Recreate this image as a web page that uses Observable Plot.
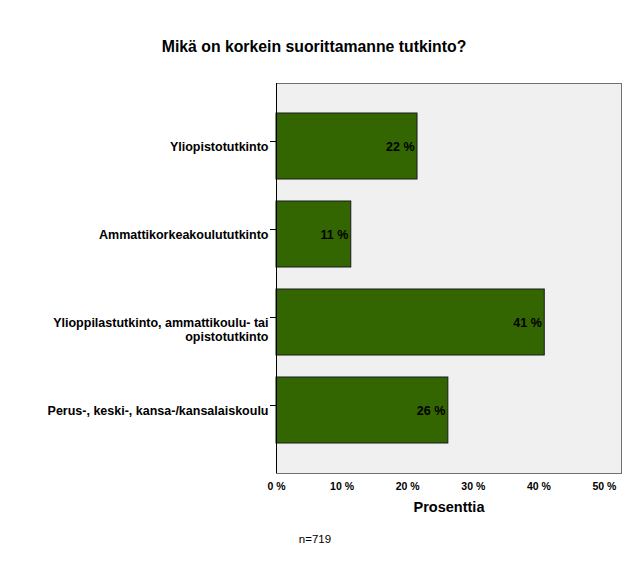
<!DOCTYPE html>
<html><head><meta charset="utf-8">
<script src="https://cdn.jsdelivr.net/npm/d3@7"></script>
<script src="https://cdn.jsdelivr.net/npm/@observablehq/plot@0.6"></script>
<style>
body{margin:0;background:#fff}
svg{font-family:"Liberation Sans",Arial,sans-serif;display:block}
</style>
</head><body><div id="chart"></div>
<script>
const categories = ["Yliopistotutkinto","Ammattikorkeakoulututkinto","Ylioppilastutkinto, ammattikoulu- tai opistotutkinto","Perus-, keski-, kansa-/kansalaiskoulu"];
const categoryLabels = ["Yliopistotutkinto","Ammattikorkeakoulututkinto","Ylioppilastutkinto, ammattikoulu- tai\nopistotutkinto","Perus-, keski-, kansa-/kansalaiskoulu"];
const values = [21.5, 11.4, 40.9, 26.2];
const valueLabels = ["22 %","11 %","41 %","26 %"];
const xTicks = [0,10,20,30,40,50];
const title = "Mikä on korkein suorittamanne tutkinto?";
const xLabel = "Prosenttia";
const note = "n=719";

const data = categories.map((c,i)=>({cat:c, v:values[i], lab:valueLabels[i]}));
const labelMap = new Map(categories.map((c,i)=>[c,categoryLabels[i]]));

const chart = Plot.plot({
  width: 629, height: 564,
  marginLeft: 276, marginRight: 8, marginTop: 83, marginBottom: 91,
  x: {domain:[0,52.6]},
  y: {domain: categories, paddingInner: 0.25, paddingOuter: 0.34},
  marks: [
    Plot.frame({fill:"#f0f0f0", stroke:"#707070"}),
    Plot.barX(data, {x:"v", y:"cat", fill:"#336600", stroke:"#1a1a1a", strokeWidth:1}),
    Plot.text(data, {x:"v", y:"cat", text:"lab", textAnchor:"end", dx:-3, fontWeight:"bold", fontSize:12.5, fill:"#000"}),
    Plot.ruleX([0], {stroke:"#000"}),
    Plot.ruleY([0], {frameAnchor:"bottom", stroke:"#000"}),
    Plot.axisX({ticks:xTicks, tickFormat:d=>d+" %", tickSize:0, tickPadding:9, fontWeight:"bold", fontSize:10.5, label:null, color:"#000"}),
    Plot.axisY({tickSize:6, tickPadding:2, tickFormat:d=>labelMap.get(d), fontWeight:"bold", fontSize:12.5, lineAnchor:"top", dy:-5, lineHeight:1.1, label:null, color:"#000"}),
    Plot.text([xLabel], {frameAnchor:"bottom", dy:38, fontWeight:"bold", fontSize:14.5, fill:"#000"}),
    Plot.text([title], {frameAnchor:"top", dx:-135, dy:-43, fontWeight:"bold", fontSize:15.8, fill:"#000"}),
    Plot.text([note], {frameAnchor:"bottom", dx:-134, dy:69, fontSize:11.5, fill:"#000"}),
  ]
});
document.getElementById("chart").appendChild(chart);
</script>
</body></html>
